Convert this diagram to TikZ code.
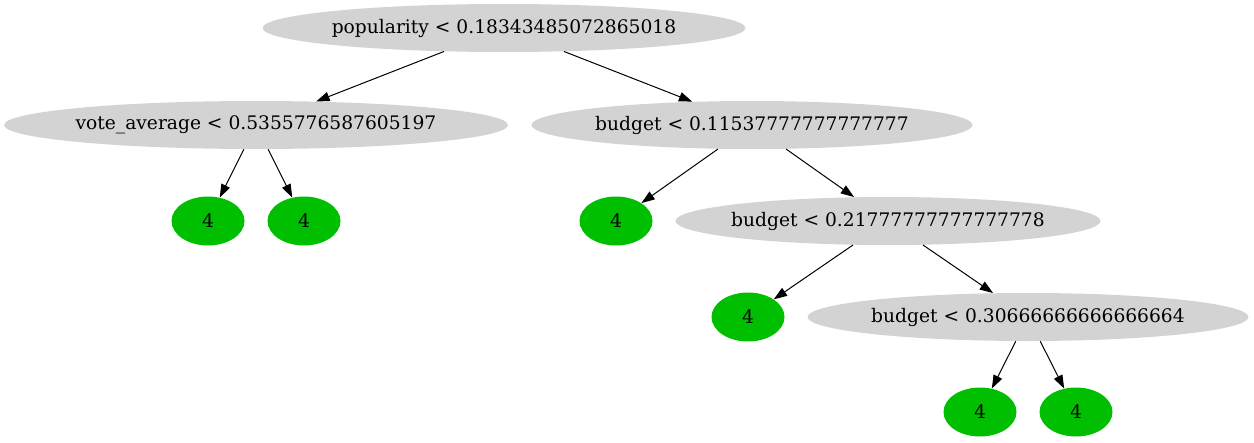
\documentclass[tikz,border=0pt]{standalone}
\usepackage{fontspec}
\setmainfont{DejaVu Serif}
\usetikzlibrary{arrows.meta,shapes.geometric}
\definecolor{splitgray}{HTML}{D3D3D3}
\definecolor{leafgreen}{HTML}{00BF00}
\tikzstyle{split}=[ellipse,fill=splitgray,inner sep=0pt,minimum height=36pt,font=\fontsize{14}{16}\selectfont]
\tikzstyle{leaf}=[ellipse,fill=leafgreen,inner sep=0pt,minimum width=54.75pt,minimum height=36.75pt,font=\fontsize{14}{16}\selectfont]
\tikzstyle{edge}=[draw=black,line width=0.75pt,-{Triangle[length=10pt,width=7pt]}]
\newcommand{\splittext}[1]{\makebox[0pt]{#1}}

\begin{document}
\begin{tikzpicture}[x=0.75pt,y=-0.75pt]
    \useasboundingbox (0,0) rectangle (1254,443);
    % splits
    \node (root) [split, minimum width=362.25pt] at (504,28) {\splittext{popularity < 0.18343485072865018}};
    \node (va) [split, minimum width=378pt] at (256,125) {\splittext{vote\_average < 0.5355776587605197}};
    \node (b1) [split, minimum width=330.75pt] at (752,125) {\splittext{budget < 0.11537777777777777}};
    \node (b2) [split, minimum width=318.75pt] at (888,221) {\splittext{budget < 0.21777777777777778}};
    \node (b3) [split, minimum width=330.75pt] at (1028,317) {\splittext{budget < 0.30666666666666664}};
    % leaves
    \node (l1) [leaf] at (208,221) {4};
    \node (l2) [leaf] at (304,221) {4};
    \node (l3) [leaf] at (616,221) {4};
    \node (l4) [leaf] at (748,317) {4};
    \node (l5) [leaf] at (980,412) {4};
    \node (l6) [leaf] at (1076,412) {4};

    \path[edge] (root) edge (va) edge (b1);
    \path[edge] (va) edge (l1) edge (l2);
    \path[edge] (b1) edge (l3) edge (b2);
    \path[edge] (b2) edge (l4) edge (b3);
    \path[edge] (b3) edge (l5) edge (l6);
\end{tikzpicture}
\end{document}
